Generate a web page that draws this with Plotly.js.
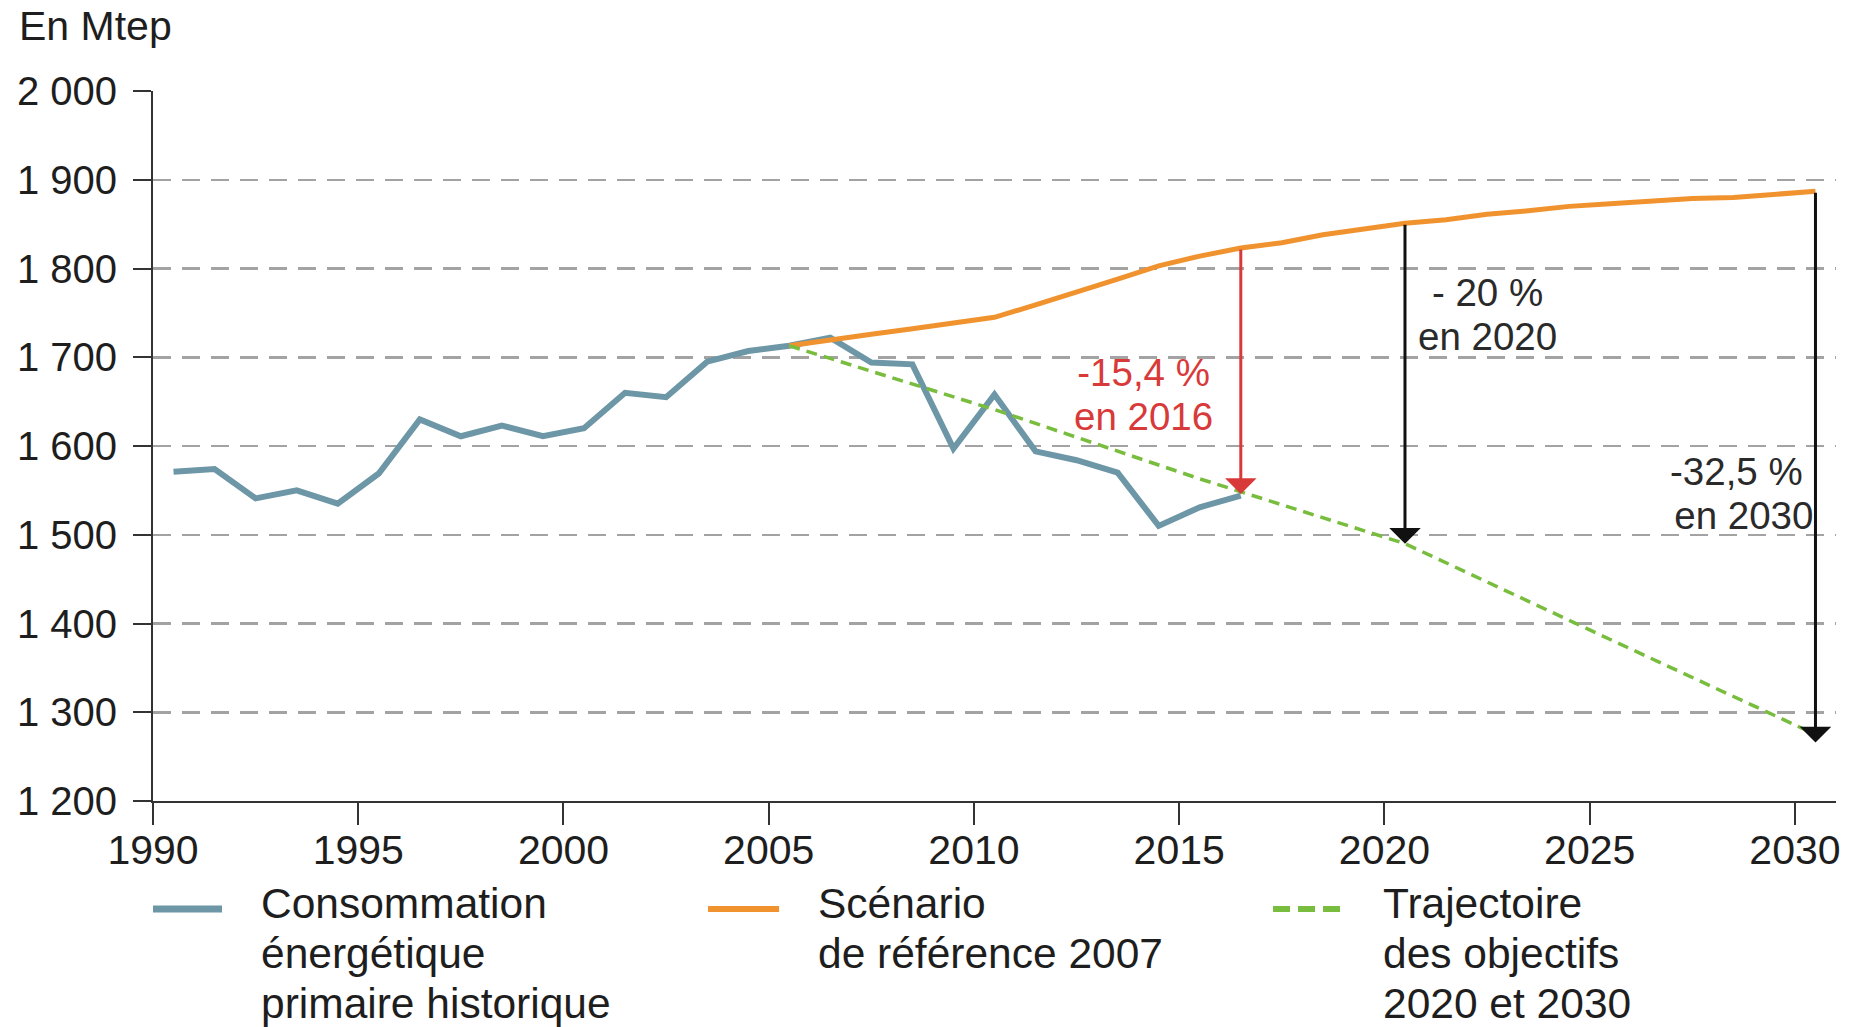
<!DOCTYPE html>
<html>
<head>
<meta charset="utf-8">
<script src="https://cdn.plot.ly/plotly-3.0.1.min.js"></script>
<style>
html,body{margin:0;padding:0;background:#fff;}
#chart{width:1872px;height:1027px;}
</style>
</head>
<body>
<div id="chart"></div>
<script>
// ---- Data ----
const histYears  = [1990,1991,1992,1993,1994,1995,1996,1997,1998,1999,2000,2001,2002,2003,2004,2005,2006,2007,2008,2009,2010,2011,2012,2013,2014,2015,2016];
const histValues = [1571,1574,1541,1550,1535,1569,1630,1611,1623,1611,1620,1660,1655,1695,1707,1713,1722,1694,1692,1597,1658,1594,1584,1570,1510,1531,1544];

const refYears  = [2005,2006,2007,2008,2009,2010,2011,2012,2013,2014,2015,2016,2017,2018,2019,2020,2021,2022,2023,2024,2025,2026,2027,2028,2029,2030];
const refValues = [1713,1720,1726,1732,1738,1745,1759,1773,1788,1803,1814,1823,1829,1838,1844,1851,1855,1861,1865,1870,1873,1876,1879,1880,1883,1887];

const targetYears  = [2005,2010,2015,2020,2025,2030];
const targetValues = [1713,1641,1563,1490,1382,1275];

const seriesLines = [
  ['Consommation', 'énergétique', 'primaire historique'],
  ['Scénario', 'de référence 2007'],
  ['Trajectoire', 'des objectifs', '2020 et 2030']
];

const xTickYears  = [1990,1995,2000,2005,2010,2015,2020,2025,2030];
const yTickValues = [1200,1300,1400,1500,1600,1700,1800,1900,2000];
const yTickLabels = ['1 200','1 300','1 400','1 500','1 600','1 700','1 800','1 900','2 000'];

const arrowYears  = [2016, 2020, 2030];
const arrowFrom   = [1823, 1851, 1887];
const arrowTo     = [1546, 1490, 1266];
const arrowLine1  = ['-15,4 %', '- 20 %', '-32,5 %\u00a0'];
const arrowLine2  = ['en 2016', 'en 2020', 'en 2030'];
const unitLabel   = 'En Mtep';

// ---- Styles / positions ----
const FONT = 'Liberation Sans, Arial, Helvetica, sans-serif';
const TXT = '#1e1e1e';
const styles = [
  {color:'#6d97a6', width:6, dash:'solid'},
  {color:'#f0932f', width:5, dash:'solid'},
  {color:'#79bd3e', width:3.5, dash:'11px,7px'}
];
const arrowColors = ['#d83a39', '#111111', '#111111'];
const labelColors = ['#d83a39', '#2a2a2a', '#2a2a2a'];
const labelAlign  = ['center', 'center', 'right'];
// label block centre in data coords
const labelPos = [
  [2013.62, 1658],
  [2022.0, 1748],
  [2028.2, 1547]
];
// legend layout in paper coords
const legendPos = [
  {x0:0.000, x1:0.041, tx:0.0630},
  {x0:0.3298, x1:0.372, tx:0.3942},
  {x0:0.6655, x1:0.7053, tx:0.7296}
];
const legendSwatch = [
  {width:7, dash:'solid'},
  {width:6, dash:'solid'},
  {width:6, dash:'17px,8px'}
];
const legendY = -0.1521;
const legendTextTop = -0.108;

function sized(lines, px) {
  return lines.map(s => '<span style="font-size:' + px + 'px">' + s + '</span>').join('<br>');
}

const traces = [
  {x: histYears, y: histValues},
  {x: refYears, y: refValues},
  {x: targetYears, y: targetValues}
].map((t, i) => Object.assign(t, {
  type: 'scatter', mode: 'lines', name: seriesLines[i].join(' '),
  line: {color: styles[i].color, width: styles[i].width, dash: styles[i].dash},
  showlegend: false, hoverinfo: 'skip'
}));

const annotations = [];
const shapes = [];

arrowYears.forEach((yr, i) => {
  annotations.push({
    xref:'x', yref:'y', axref:'x', ayref:'y',
    x: yr, y: arrowTo[i], ax: yr, ay: arrowFrom[i],
    text: '', showarrow: true, arrowhead: 1, arrowsize: 1.75, arrowwidth: 3,
    arrowcolor: arrowColors[i], standoff: 0, startstandoff: 0,
    font: {size: 1}
  });
  const p = labelPos[i];
  annotations.push({
    xref:'x', yref:'y', x: p[0], y: p[1],
    text: sized([arrowLine1[i], arrowLine2[i]], 38.5), showarrow: false,
    xanchor:'center', yanchor:'middle', align: labelAlign[i],
    font:{family: FONT, size: 33.5, color: labelColors[i]}
  });
});

// legend (custom: long swatches with top-aligned multi-line labels)
seriesLines.forEach((lines, i) => {
  const lp = legendPos[i];
  shapes.push({
    type:'line', xref:'paper', yref:'paper', x0: lp.x0, x1: lp.x1, y0: legendY, y1: legendY,
    line: {color: styles[i].color, width: legendSwatch[i].width, dash: legendSwatch[i].dash}
  });
  annotations.push({
    xref:'paper', yref:'paper', x: lp.tx, y: legendTextTop, text: sized(lines, 42.5), showarrow: false,
    xanchor:'left', yanchor:'top', align:'left',
    font:{family: FONT, size: 38.5, color: TXT}
  });
});

annotations.push({
  xref:'paper', yref:'paper', x: -0.0808, y: 1.0915, text: unitLabel, showarrow:false,
  xanchor:'left', yanchor:'middle', font:{family: FONT, size: 41, color: TXT}
});

const layout = {
  width: 1872, height: 1027,
  margin: {l:153, r:36, t:91, b:226, pad:0},
  paper_bgcolor:'#ffffff', plot_bgcolor:'#ffffff',
  font: {family: FONT, color: TXT},
  showlegend: false,
  xaxis: {
    type:'linear', range:[1989.5, 2030.5],
    tickmode:'array', tickvals: xTickYears.map(y => y - 0.5), ticktext: xTickYears.map(String),
    showgrid:false, zeroline:false,
    showline:true, linecolor:'#333333', linewidth:2,
    ticks:'outside', ticklen:22, tickwidth:2, tickcolor:'#333333',
    ticklabelstandoff: -10,
    tickfont:{family: FONT, size: 41, color: TXT},
    fixedrange:true
  },
  yaxis: {
    range:[1200, 2000],
    tickmode:'array', tickvals: yTickValues, ticktext: yTickLabels,
    showgrid:true, gridcolor:'#a3a3a3', gridwidth:2.5, griddash:'18px,11px',
    zeroline:false,
    showline:true, linecolor:'#333333', linewidth:2,
    ticks:'outside', ticklen:18, tickwidth:2, tickcolor:'#333333',
    ticklabelstandoff: 8,
    tickfont:{family: FONT, size: 40, color: TXT},
    fixedrange:true
  },
  annotations: annotations,
  shapes: shapes
};

Plotly.newPlot('chart', traces, layout, {displayModeBar:false, staticPlot:true});
</script>
</body>
</html>
